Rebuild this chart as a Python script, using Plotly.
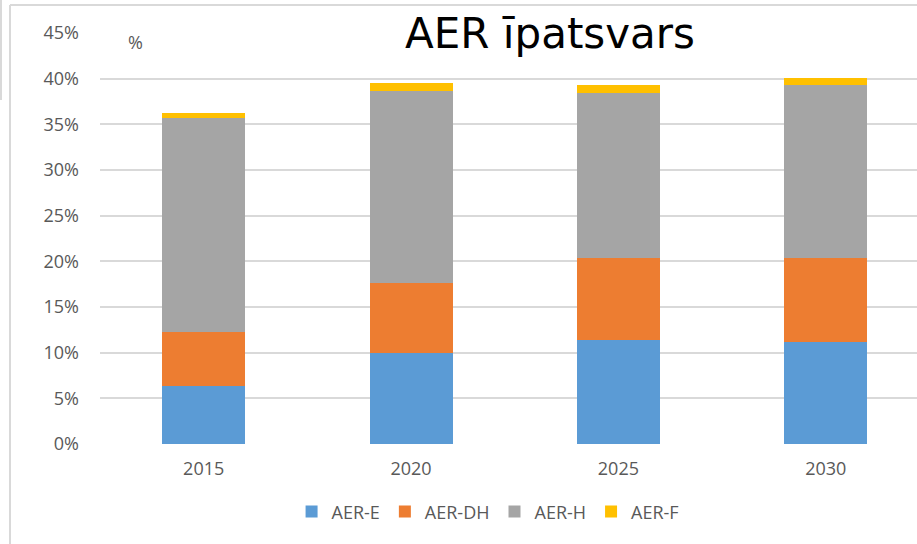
import plotly.graph_objects as go

years = ["2015", "2020", "2025", "2030"]
aer_e = [6.4, 10.0, 11.4, 11.2]
aer_dh = [5.9, 7.6, 9.0, 9.2]
aer_h = [23.4, 21.0, 18.0, 18.9]
aer_f = [0.5, 0.9, 0.9, 0.8]
y_ticks = [0, 5, 10, 15, 20, 25, 30, 35, 40, 45]
y_labels = [f"{v}%" for v in y_ticks]

series = [("AER-E", aer_e, "#5B9BD5"), ("AER-DH", aer_dh, "#ED7D31"),
          ("AER-H", aer_h, "#A5A5A5"), ("AER-F", aer_f, "#FFC000")]

font = "Open Sans"
fig = go.Figure()
for name, vals, col in series:
    fig.add_trace(go.Bar(x=list(range(len(years))), y=vals, name=name,
                         marker=dict(color=col, line=dict(width=0)), width=0.4))

fig.update_layout(
    width=917, height=544, barmode="stack",
    margin=dict(l=100, r=0, t=33, b=100, autoexpand=False),
    plot_bgcolor="white", paper_bgcolor="white",
    font=dict(family=font, color="#595959", size=18),
    title=dict(text="AER īpatsvars", x=550 / 917, xanchor="center", y=1 - 33 / 544, yanchor="middle",
               font=dict(size=42, color="black", family="DejaVu Sans")),
    legend=dict(orientation="h", x=0.475, xanchor="center", y=-0.165, yanchor="middle",
                font=dict(size=18, color="#595959"), itemwidth=30, traceorder="normal"),
    showlegend=True,
)
fig.update_xaxes(tickmode="array", tickvals=list(range(len(years))), ticktext=years,
                 range=[-0.5, 3.44], showgrid=False, zeroline=False, showline=False,
                 ticks="", ticklabelstandoff=12, automargin=False)
fig.update_yaxes(range=[0, 45], tickmode="array", tickvals=y_ticks, ticktext=y_labels,
                 showgrid=True, gridcolor="#D9D9D9", gridwidth=1.5,
                 zeroline=False, showline=False, ticks="", ticklabelstandoff=20, automargin=False)
fig.add_annotation(text="%", xref="paper", yref="paper", x=(135 - 100) / 817, y=(444 - 42) / 411,
                   xanchor="center", yanchor="middle",
                   showarrow=False, font=dict(size=18, color="#595959"))
# chart border
fig.add_shape(type="line", xref="paper", yref="paper", x0=-90/817, x1=1.01, y0=(444-5)/411, y1=(444-5)/411,
              line=dict(color="#D9D9D9", width=2))
fig.add_shape(type="line", xref="paper", yref="paper", x0=-90/817, x1=-90/817, y0=(444-5)/411, y1=-100/411,
              line=dict(color="#D9D9D9", width=2))
fig.add_shape(type="line", xref="paper", yref="paper", x0=-99/817, x1=-99/817, y0=(444)/411, y1=(444-100)/411,
              line=dict(color="#D9D9D9", width=2))
fig.write_html("out.html", config={"displayModeBar": False},
               post_script="document.body.style.margin='0';")
